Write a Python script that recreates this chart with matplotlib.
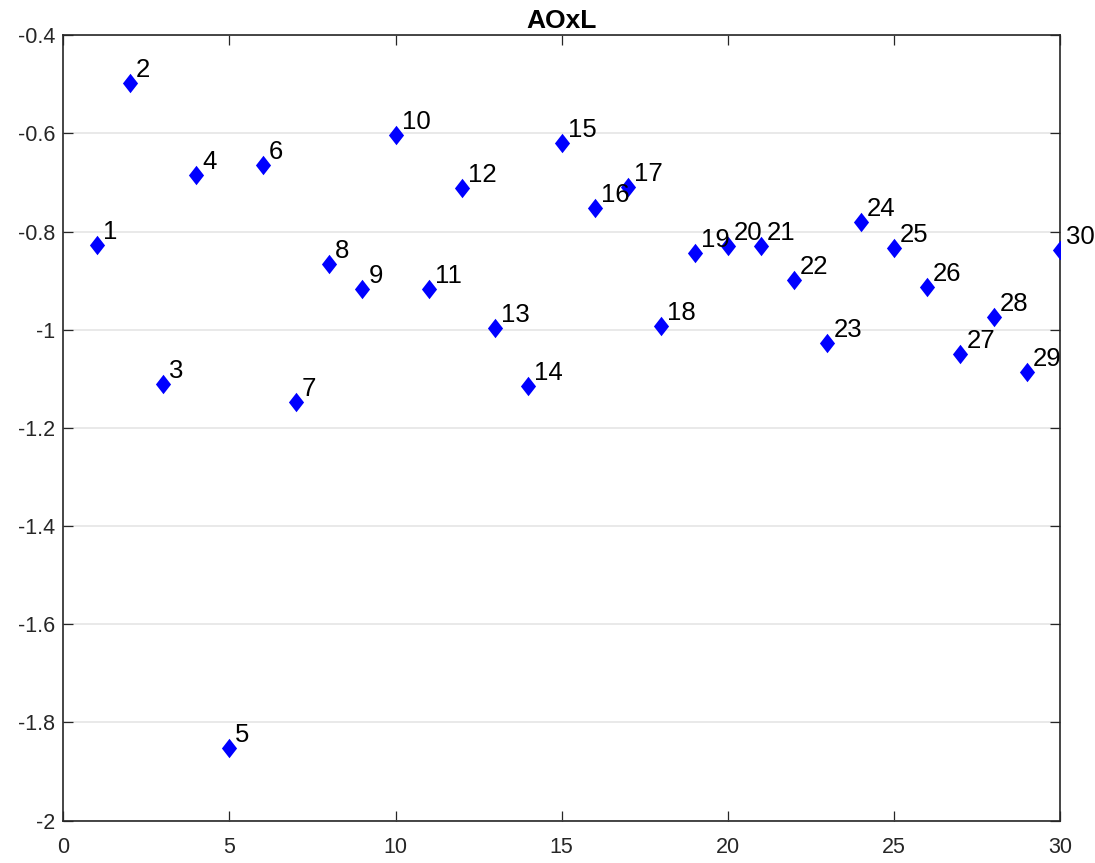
import matplotlib.pyplot as plt
from matplotlib.path import Path
from matplotlib.ticker import FuncFormatter

# Loadings per item
items = list(range(1, 31))
values = [-0.828, -0.498, -1.110, -0.685, -1.852, -0.665, -1.148, -0.866, -0.916, -0.603,
          -0.916, -0.712, -0.997, -1.114, -0.619, -0.751, -0.710, -0.993, -0.844, -0.829,
          -0.830, -0.899, -1.027, -0.781, -0.833, -0.913, -1.050, -0.974, -1.087, -0.838]
labels = [str(i) for i in items]
title = 'AOxL'

plt.rcParams['font.family'] = ['Liberation Sans', 'DejaVu Sans']
plt.rcParams['axes.unicode_minus'] = False

# matlab-style diamond, a bit narrower than tall
diamond = Path([(0, 1), (0.78, 0), (0, -1), (-0.78, 0), (0, 1)],
               [Path.MOVETO, Path.LINETO, Path.LINETO, Path.LINETO, Path.CLOSEPOLY])

fig = plt.figure(figsize=(10.95, 8.63), dpi=100)
ax = fig.add_axes([0.0578, 0.0492, 0.968 - 0.0578, 0.9591 - 0.0492])

ax.plot(items, values, linestyle='none', marker=diamond, markersize=14,
        color='#0000ff', markeredgewidth=0, zorder=3)

for x, y, lab in zip(items, values, labels):
    ax.annotate(lab, (x, y), xytext=(6, 6), textcoords='offset pixels',
                ha='left', va='baseline', fontsize=18.5, color='black', zorder=4,
                annotation_clip=False)

ax.set_xlim(0, 30)
ax.set_ylim(-2, -0.4)
ax.set_xticks(range(0, 31, 5))
ax.set_yticks([-2 + 0.2 * k for k in range(9)])
ax.yaxis.set_major_formatter(FuncFormatter(lambda v, p: '%g' % round(v, 1)))

ax.grid(axis='y', color='#e3e3e3', linewidth=1.1, zorder=0)
ax.set_axisbelow(True)

for s in ax.spines.values():
    s.set_color('#262626')
    s.set_linewidth(1.2)

ax.tick_params(direction='in', length=7.5, width=0.9, color='#262626',
               top=True, right=True, labelsize=15.5, labelcolor='#262626')
ax.tick_params(axis='x', pad=12)
ax.tick_params(axis='y', pad=6)

ax.set_title(title, fontsize=19, fontweight='bold', pad=5)

fig.savefig('out.png', dpi=100)
